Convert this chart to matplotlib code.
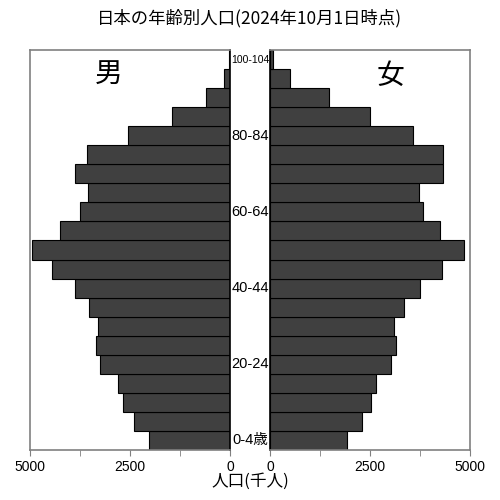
import matplotlib
matplotlib.use("Agg")
import matplotlib.pyplot as plt
import matplotlib.transforms as mtransforms
from matplotlib.ticker import MultipleLocator

plt.rcParams['font.family'] = ['Liberation Sans', 'Noto Sans CJK JP', 'DejaVu Sans']

# 年齢階級 (下から上へ)
ages = ["0-4", "5-9", "10-14", "15-19", "20-24", "25-29", "30-34", "35-39",
        "40-44", "45-49", "50-54", "55-59", "60-64", "65-69", "70-74",
        "75-79", "80-84", "85-89", "90-94", "95-99", "100-104"]

# 人口 (千人)
male = [2020, 2410, 2670, 2800, 3240, 3360, 3290, 3520, 3880, 4440, 4950,
        4250, 3750, 3540, 3880, 3580, 2560, 1450, 600, 140, 15]
female = [1920, 2290, 2530, 2660, 3030, 3160, 3110, 3360, 3760, 4310, 4840,
          4240, 3820, 3730, 4320, 4320, 3580, 2500, 1480, 510, 65]

# 中央に表示する年齢ラベル
shown_labels = {"0-4": "0-4歳", "20-24": "20-24", "40-44": "40-44",
                "60-64": "60-64", "80-84": "80-84", "100-104": "100-104"}

fig = plt.figure(figsize=(5, 5), dpi=100)
axL = fig.add_axes([0.06, 0.10, 0.40, 0.80])
axR = fig.add_axes([0.54, 0.10, 0.40, 0.80])

y = list(range(len(ages)))
bar_color = "#404040"
axL.barh(y, male, height=1.0, color=bar_color, edgecolor="black", linewidth=0.8)
axR.barh(y, female, height=1.0, color=bar_color, edgecolor="black", linewidth=0.8)

for ax in (axL, axR):
    ax.set_ylim(-0.5, len(ages) - 0.5)
    ax.set_yticks([])
    ax.xaxis.set_major_locator(MultipleLocator(2500))
    ax.xaxis.set_minor_locator(MultipleLocator(1250))
    ax.tick_params(axis="x", which="both", direction="out", length=4,
                   color="#808080", labelsize=10, pad=3)
    for s in ax.spines.values():
        s.set_color("#808080")
        s.set_linewidth(1.2)

axL.set_xlim(5000, 0)
axR.set_xlim(0, 5000)
axL.spines["right"].set_color("black")
axR.spines["left"].set_color("black")

axL.text(0.395, 0.94, "男", transform=axL.transAxes, fontsize=20,
         ha="center", va="center", family=["Noto Sans CJK JP"])
axR.text(0.60, 0.935, "女", transform=axR.transAxes, fontsize=20,
         ha="center", va="center", family=["Noto Sans CJK JP"])

trans = mtransforms.blended_transform_factory(fig.transFigure, axL.transData)
for i, a in enumerate(ages):
    if a in shown_labels:
        size = 7.5 if a == "100-104" else 10.5
        fig.text(0.5, i, shown_labels[a], transform=trans, ha="center",
                 va="center", fontsize=size)

fig.text(0.5, 0.038, "人口(千人)", ha="center", va="center", fontsize=12,
         family=["Noto Sans CJK JP"])
fig.text(0.5, 0.964, "日本の年齢別人口(2024年10月1日時点)", ha="center",
         va="center", fontsize=12.5, family=["Noto Sans CJK JP"])

fig.savefig("out.png", dpi=100)
